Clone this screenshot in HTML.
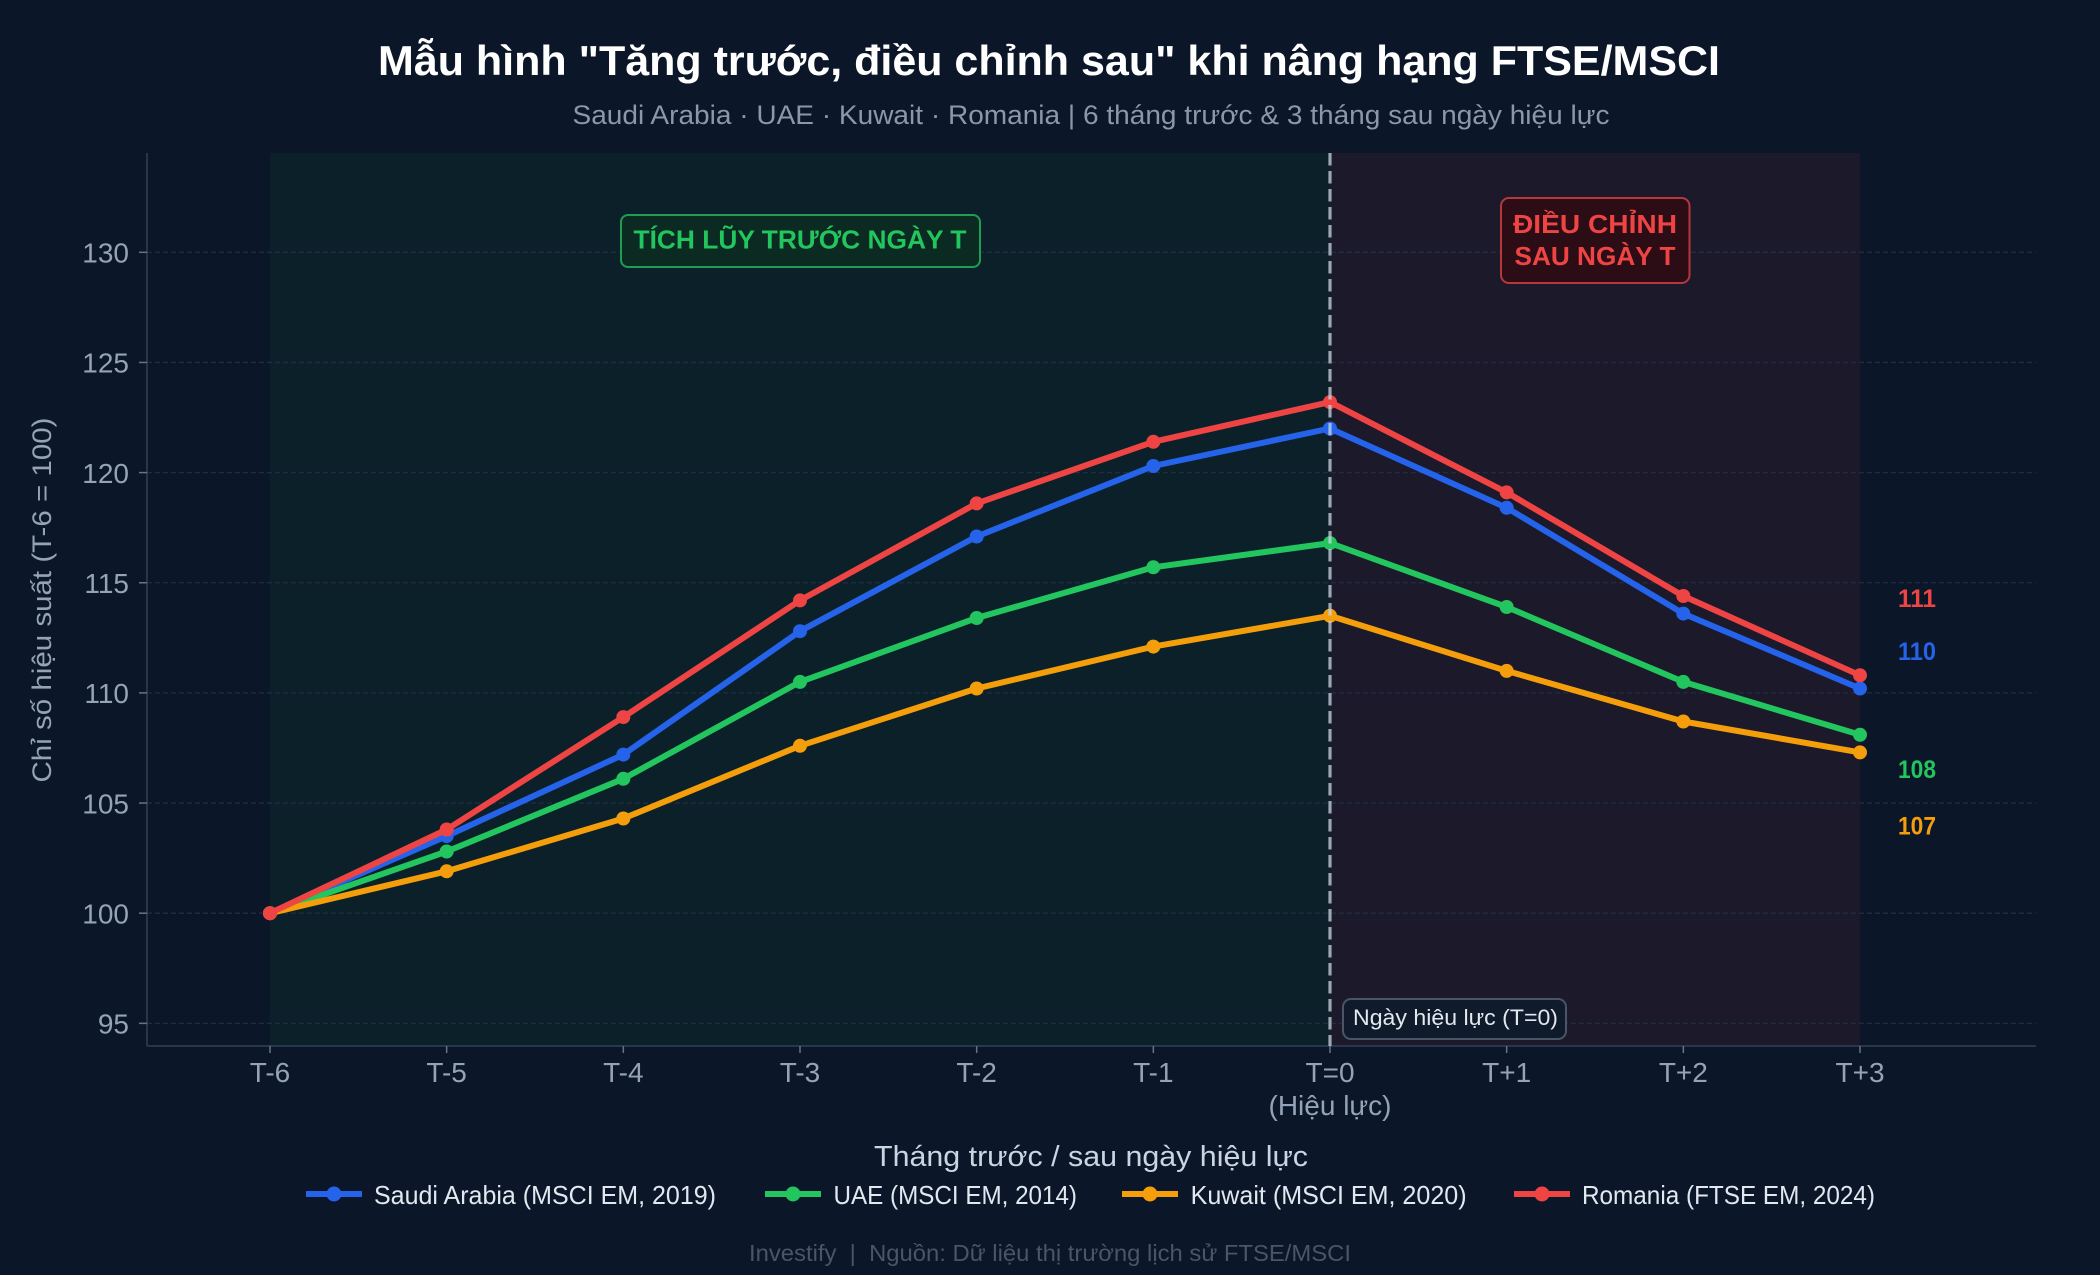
<!DOCTYPE html>
<html>
<head>
<meta charset="utf-8">
<style>
html,body{margin:0;padding:0;background:#0b1628;overflow:hidden;}
svg{display:block;}
text{font-family:"Liberation Sans","DejaVu Sans",sans-serif;}
</style>
</head>
<body>
<svg width="2100" height="1275" viewBox="0 0 2100 1275" xmlns="http://www.w3.org/2000/svg">
<rect x="0" y="0" width="2100" height="1275" fill="#0b1628"/>

<!-- regions -->
<rect x="270" y="153" width="1060" height="893" fill="#0c2029"/>
<rect x="1330" y="153" width="530" height="893" fill="#1b192a"/>

<!-- grid -->
<g stroke="#1f2c44" stroke-width="1.3" stroke-dasharray="5 3">
<line x1="147" y1="1023.35" x2="2036" y2="1023.35"/>
<line x1="147" y1="913.2" x2="2036" y2="913.2"/>
<line x1="147" y1="803.05" x2="2036" y2="803.05"/>
<line x1="147" y1="692.9" x2="2036" y2="692.9"/>
<line x1="147" y1="582.75" x2="2036" y2="582.75"/>
<line x1="147" y1="472.6" x2="2036" y2="472.6"/>
<line x1="147" y1="362.45" x2="2036" y2="362.45"/>
<line x1="147" y1="252.3" x2="2036" y2="252.3"/>
</g>

<!-- spines -->
<line x1="147" y1="153" x2="147" y2="1046" stroke="#334155" stroke-width="1.5"/>
<line x1="147" y1="1046" x2="2036" y2="1046" stroke="#334155" stroke-width="1.5"/>

<!-- y ticks -->
<g stroke="#64748b" stroke-width="1.5">
<line x1="139" y1="1023.35" x2="147" y2="1023.35"/>
<line x1="139" y1="913.2" x2="147" y2="913.2"/>
<line x1="139" y1="803.05" x2="147" y2="803.05"/>
<line x1="139" y1="692.9" x2="147" y2="692.9"/>
<line x1="139" y1="582.75" x2="147" y2="582.75"/>
<line x1="139" y1="472.6" x2="147" y2="472.6"/>
<line x1="139" y1="362.45" x2="147" y2="362.45"/>
<line x1="139" y1="252.3" x2="147" y2="252.3"/>
</g>
<g fill="#94a3b8" font-size="28" text-anchor="end">
<text x="129" y="1033.5">95</text>
<text x="129" y="923.5">100</text>
<text x="129" y="813.5">105</text>
<text x="129" y="703">110</text>
<text x="129" y="593">115</text>
<text x="129" y="483">120</text>
<text x="129" y="372.5">125</text>
<text x="129" y="262.5">130</text>
</g>

<!-- x ticks -->
<g stroke="#64748b" stroke-width="1.5">
<line x1="270" y1="1046" x2="270" y2="1053"/>
<line x1="446.67" y1="1046" x2="446.67" y2="1053"/>
<line x1="623.33" y1="1046" x2="623.33" y2="1053"/>
<line x1="800" y1="1046" x2="800" y2="1053"/>
<line x1="976.67" y1="1046" x2="976.67" y2="1053"/>
<line x1="1153.33" y1="1046" x2="1153.33" y2="1053"/>
<line x1="1330" y1="1046" x2="1330" y2="1053"/>
<line x1="1506.67" y1="1046" x2="1506.67" y2="1053"/>
<line x1="1683.33" y1="1046" x2="1683.33" y2="1053"/>
<line x1="1860" y1="1046" x2="1860" y2="1053"/>
</g>
<g fill="#94a3b8" font-size="28" text-anchor="middle">
<text x="270" y="1082">T-6</text>
<text x="446.67" y="1082">T-5</text>
<text x="623.33" y="1082">T-4</text>
<text x="800" y="1082">T-3</text>
<text x="976.67" y="1082">T-2</text>
<text x="1153.33" y="1082">T-1</text>
<text x="1330" y="1082">T=0</text>
<text x="1330" y="1115">(Hiệu lực)</text>
<text x="1506.67" y="1082">T+1</text>
<text x="1683.33" y="1082">T+2</text>
<text x="1860" y="1082">T+3</text>
</g>

<!-- series -->
<g fill="none" stroke-width="6" stroke-linejoin="round" stroke-linecap="round">
<polyline stroke="#2563eb" points="270,913.2 446.67,836.1 623.33,754.6 800,631.2 976.67,536.5 1153.33,466.0 1330,428.5 1506.67,507.8 1683.33,613.6 1860,688.5"/>
</g>
<g fill="#2563eb">
<circle cx="270" cy="913.2" r="7"/><circle cx="446.67" cy="836.1" r="7"/><circle cx="623.33" cy="754.6" r="7"/><circle cx="800" cy="631.2" r="7"/><circle cx="976.67" cy="536.5" r="7"/><circle cx="1153.33" cy="466.0" r="7"/><circle cx="1330" cy="428.5" r="7"/><circle cx="1506.67" cy="507.8" r="7"/><circle cx="1683.33" cy="613.6" r="7"/><circle cx="1860" cy="688.5" r="7"/>
</g>
<g fill="none" stroke-width="6" stroke-linejoin="round" stroke-linecap="round">
<polyline stroke="#22c55e" points="270,913.2 446.67,851.5 623.33,778.8 800,681.9 976.67,618.0 1153.33,567.3 1330,543.1 1506.67,607.0 1683.33,681.9 1860,734.8"/>
</g>
<g fill="#22c55e">
<circle cx="270" cy="913.2" r="7"/><circle cx="446.67" cy="851.5" r="7"/><circle cx="623.33" cy="778.8" r="7"/><circle cx="800" cy="681.9" r="7"/><circle cx="976.67" cy="618.0" r="7"/><circle cx="1153.33" cy="567.3" r="7"/><circle cx="1330" cy="543.1" r="7"/><circle cx="1506.67" cy="607.0" r="7"/><circle cx="1683.33" cy="681.9" r="7"/><circle cx="1860" cy="734.8" r="7"/>
</g>
<g fill="none" stroke-width="6" stroke-linejoin="round" stroke-linecap="round">
<polyline stroke="#f59e0b" points="270,913.2 446.67,871.3 623.33,818.5 800,745.8 976.67,688.5 1153.33,646.6 1330,615.8 1506.67,670.9 1683.33,721.5 1860,752.4"/>
</g>
<g fill="#f59e0b">
<circle cx="270" cy="913.2" r="7"/><circle cx="446.67" cy="871.3" r="7"/><circle cx="623.33" cy="818.5" r="7"/><circle cx="800" cy="745.8" r="7"/><circle cx="976.67" cy="688.5" r="7"/><circle cx="1153.33" cy="646.6" r="7"/><circle cx="1330" cy="615.8" r="7"/><circle cx="1506.67" cy="670.9" r="7"/><circle cx="1683.33" cy="721.5" r="7"/><circle cx="1860" cy="752.4" r="7"/>
</g>
<g fill="none" stroke-width="6" stroke-linejoin="round" stroke-linecap="round">
<polyline stroke="#ef4444" points="270,913.2 446.67,829.5 623.33,717.1 800,600.4 976.67,503.4 1153.33,441.8 1330,402.1 1506.67,492.4 1683.33,596.0 1860,675.3"/>
</g>
<g fill="#ef4444">
<circle cx="270" cy="913.2" r="7"/><circle cx="446.67" cy="829.5" r="7"/><circle cx="623.33" cy="717.1" r="7"/><circle cx="800" cy="600.4" r="7"/><circle cx="976.67" cy="503.4" r="7"/><circle cx="1153.33" cy="441.8" r="7"/><circle cx="1330" cy="402.1" r="7"/><circle cx="1506.67" cy="492.4" r="7"/><circle cx="1683.33" cy="596.0" r="7"/><circle cx="1860" cy="675.3" r="7"/>
</g>

<!-- T=0 dashed line -->
<line x1="1330" y1="153" x2="1330" y2="1046" stroke="#cbd5e1" stroke-opacity="0.75" stroke-width="3.2" stroke-dasharray="12.5 5.5"/>

<!-- end labels -->
<g font-size="25" font-weight="bold">
<text x="1898" y="607" fill="#ef4444" textLength="38" lengthAdjust="spacingAndGlyphs">111</text>
<text x="1898" y="660" fill="#2563eb" textLength="38" lengthAdjust="spacingAndGlyphs">110</text>
<text x="1898" y="778" fill="#22c55e" textLength="38" lengthAdjust="spacingAndGlyphs">108</text>
<text x="1898" y="834.5" fill="#f59e0b" textLength="38" lengthAdjust="spacingAndGlyphs">107</text>
</g>

<!-- annotation boxes -->
<rect x="621" y="215" width="359" height="52" rx="7" ry="7" fill="#0b2a22" stroke="#1f9d55" stroke-width="2"/>
<text x="800" y="248.5" fill="#22c55e" font-size="26" font-weight="bold" text-anchor="middle" textLength="333" lengthAdjust="spacingAndGlyphs">TÍCH LŨY TRƯỚC NGÀY T</text>

<rect x="1501" y="198" width="188.5" height="85" rx="8" ry="8" fill="#2c0d15" stroke="#b4383c" stroke-width="2"/>
<text x="1595" y="233" fill="#ef4444" font-size="26" font-weight="bold" text-anchor="middle" textLength="164" lengthAdjust="spacingAndGlyphs">ĐIỀU CHỈNH</text>
<text x="1595" y="265" fill="#ef4444" font-size="26" font-weight="bold" text-anchor="middle" textLength="161" lengthAdjust="spacingAndGlyphs">SAU NGÀY T</text>

<rect x="1343" y="999" width="223" height="40" rx="8" ry="8" fill="#0f1a2b" stroke="#4a5568" stroke-width="2"/>
<text x="1353" y="1025" fill="#e2e8f0" font-size="22" textLength="205" lengthAdjust="spacingAndGlyphs">Ngày hiệu lực (T=0)</text>

<!-- titles -->
<text x="1049" y="75" fill="#ffffff" font-size="42" font-weight="bold" text-anchor="middle" textLength="1342" lengthAdjust="spacingAndGlyphs">Mẫu hình "Tăng trước, điều chỉnh sau" khi nâng hạng FTSE/MSCI</text>
<text x="1091" y="124" fill="#8b97aa" font-size="27" text-anchor="middle" textLength="1037" lengthAdjust="spacingAndGlyphs">Saudi Arabia · UAE · Kuwait · Romania | 6 tháng trước &amp; 3 tháng sau ngày hiệu lực</text>

<!-- axis labels -->
<text x="1091" y="1166" fill="#cbd5e1" font-size="29" text-anchor="middle" textLength="434" lengthAdjust="spacingAndGlyphs">Tháng trước / sau ngày hiệu lực</text>
<text transform="translate(51,600) rotate(-90)" x="0" y="0" fill="#94a3b8" font-size="27" text-anchor="middle" textLength="365" lengthAdjust="spacingAndGlyphs">Chỉ số hiệu suất (T-6 = 100)</text>

<!-- legend -->
<g stroke-width="6">
<line x1="306" y1="1194" x2="362" y2="1194" stroke="#2563eb"/>
<line x1="765" y1="1194" x2="821" y2="1194" stroke="#22c55e"/>
<line x1="1122" y1="1194" x2="1178" y2="1194" stroke="#f59e0b"/>
<line x1="1514" y1="1194" x2="1570" y2="1194" stroke="#ef4444"/>
</g>
<circle cx="334" cy="1194" r="7.5" fill="#2563eb"/>
<circle cx="793" cy="1194" r="7.5" fill="#22c55e"/>
<circle cx="1150" cy="1194" r="7.5" fill="#f59e0b"/>
<circle cx="1542" cy="1194" r="7.5" fill="#ef4444"/>
<g fill="#e2e8f0" font-size="26">
<text x="374" y="1204" textLength="342" lengthAdjust="spacingAndGlyphs">Saudi Arabia (MSCI EM, 2019)</text>
<text x="833.5" y="1204" textLength="243.5" lengthAdjust="spacingAndGlyphs">UAE (MSCI EM, 2014)</text>
<text x="1190.6" y="1204" textLength="276" lengthAdjust="spacingAndGlyphs">Kuwait (MSCI EM, 2020)</text>
<text x="1582" y="1204" textLength="293" lengthAdjust="spacingAndGlyphs">Romania (FTSE EM, 2024)</text>
</g>

<!-- footer -->
<text x="1050" y="1261" fill="#4a5568" font-size="23" text-anchor="middle" textLength="602" lengthAdjust="spacingAndGlyphs" xml:space="preserve">Investify  |  Nguồn: Dữ liệu thị trường lịch sử FTSE/MSCI</text>
</svg>
</body>
</html>
